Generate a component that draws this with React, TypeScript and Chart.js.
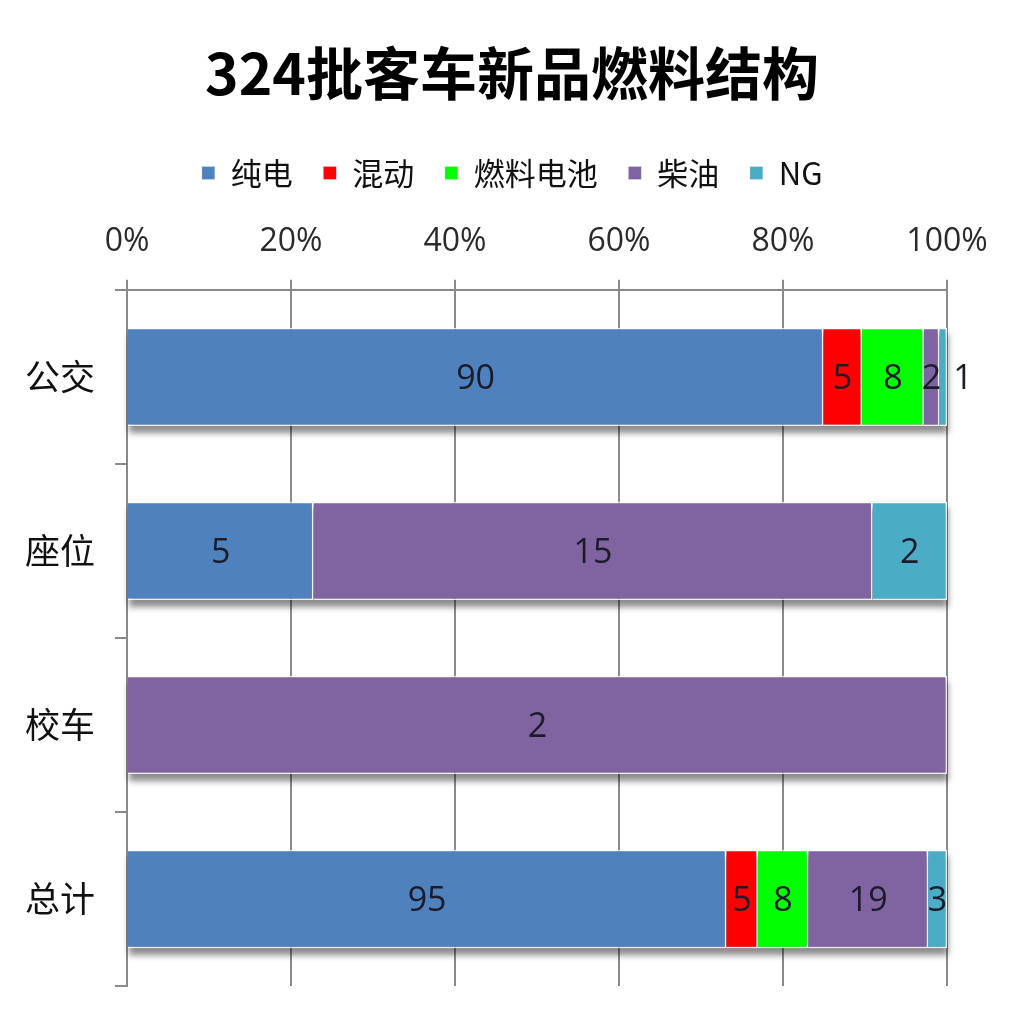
import { useEffect, useRef } from 'react';
import { Chart, registerables } from 'chart.js';

Chart.register(...registerables);

// categories (y axis) and raw counts per fuel type
const categories = ['公交', '座位', '校车', '总计'];
const seriesNames = ['纯电', '混动', '燃料电池', '柴油', 'NG'];
const chunDian = [90, 5, 0, 95];
const hunDong = [5, 0, 0, 5];
const ranLiao = [8, 0, 0, 8];
const chaiYou = [2, 15, 2, 19];
const ngValues = [1, 2, 0, 3];
const seriesColors = ['#4F81BD', '#FF0000', '#00FF00', '#8064A2', '#4BACC6'];

const FONT = '"Open Sans", "Noto Sans CJK SC", sans-serif';
const CJK_FONT = '"Noto Sans CJK SC", "Open Sans", sans-serif';

const rawSeries = [chunDian, hunDong, ranLiao, chaiYou, ngValues];
const totals = categories.map((_, i) => rawSeries.reduce((s, arr) => s + arr[i], 0));

// soft drop shadow under each stacked bar, like the Excel style
const shadowPlugin = {
  id: 'barShadow',
  beforeDatasetsDraw(chart: Chart) {
    const ctx = chart.ctx;
    ctx.save();
    ctx.filter = 'blur(3px)';
    ctx.fillStyle = 'rgba(0,0,0,0.45)';
    categories.forEach((_, i) => {
      let left = Infinity;
      let right = -Infinity;
      let top = 0;
      let bottom = 0;
      chart.data.datasets.forEach((_ds, d) => {
        const el: any = chart.getDatasetMeta(d).data[i];
        if (!rawSeries[d][i]) return;
        left = Math.min(left, el.base, el.x);
        right = Math.max(right, el.base, el.x);
        top = el.y - el.height / 2;
        bottom = el.y + el.height / 2;
      });
      if (right > left) ctx.fillRect(left + 1, top + 6, right - left, bottom - top + 1);
    });
    ctx.restore();
  },
};

// raw values written in the middle of each segment
const labelPlugin = {
  id: 'segmentLabels',
  afterDatasetsDraw(chart: Chart) {
    const ctx = chart.ctx;
    ctx.save();
    ctx.font = `34px ${FONT}`;
    ctx.fillStyle = '#1b1b2a';
    ctx.textAlign = 'center';
    ctx.textBaseline = 'middle';
    categories.forEach((_, i) => {
      let prevRight = -Infinity;
      chart.data.datasets.forEach((_ds, d) => {
        const raw = rawSeries[d][i];
        if (!raw) return;
        const el: any = chart.getDatasetMeta(d).data[i];
        const text = String(raw);
        const w = ctx.measureText(text).width;
        let cx = (el.x + el.base) / 2;
        if (cx - w / 2 < prevRight + 4) cx = prevRight + 12 + w / 2;
        ctx.fillText(text, cx, el.y + 2);
        prevRight = cx + w / 2;
      });
    });
    ctx.restore();
  },
};

export default function App() {
  const canvasRef = useRef<HTMLCanvasElement>(null);

  useEffect(() => {
    if (!canvasRef.current) return;
    const gridColor = '#8a8a8a';

    const chart = new Chart(canvasRef.current, {
      type: 'bar',
      data: {
        labels: categories,
        datasets: seriesNames.map((name, d) => ({
          label: name,
          data: rawSeries[d].map((v, i) => (v / totals[i]) * 100),
          backgroundColor: seriesColors[d],
          borderColor: 'rgba(255,255,255,0.85)',
          borderWidth: 1.5,
          categoryPercentage: 1,
          barPercentage: 0.565,
        })),
      },
      plugins: [shadowPlugin, labelPlugin],
      options: {
        indexAxis: 'y',
        animation: false,
        responsive: true,
        maintainAspectRatio: false,
        layout: { padding: { left: 0, right: 0, top: 0, bottom: 36 } },
        plugins: {
          title: {
            display: true,
            text: '324批客车新品燃料结构',
            color: '#000',
            font: { family: CJK_FONT, size: 57, weight: 'bold' },
            padding: { top: 39, bottom: 20 },
          },
          legend: {
            position: 'top',
            labels: {
              color: '#111',
              font: { family: CJK_FONT, size: 31 },
              boxWidth: 14,
              boxHeight: 14,
              padding: 30,
            },
          },
          tooltip: { enabled: false },
        },
        scales: {
          x: {
            position: 'top',
            stacked: true,
            min: 0,
            max: 100,
            afterFit: (scale) => {
              scale.height += 5;
            },
            ticks: {
              stepSize: 20,
              color: '#2a2a2a',
              font: { family: FONT, size: 32 },
              padding: 19,
              callback: (v) => `${v}%`,
            },
            grid: { color: gridColor, lineWidth: 2, tickLength: 10 },
            border: { display: true, color: gridColor, width: 2 },
          },
          y: {
            stacked: true,
            afterFit: (scale: any) => {
              scale.width = 127;
              scale.paddingTop = 0;
              scale.paddingBottom = 0;
            },
            ticks: {
              color: '#111',
              font: { family: CJK_FONT, size: 35 },
              padding: 20,
            },
            grid: {
              offset: true,
              drawOnChartArea: false,
              color: gridColor,
              lineWidth: 2,
              tickLength: 12,
            },
            border: { display: true, color: gridColor, width: 2 },
          },
          // empty right-hand gutter so the title and legend stay centred on the page
          gutter: {
            type: 'linear',
            position: 'right',
            display: true,
            afterFit: (scale: any) => {
              scale.width = 77;
              scale.paddingTop = 0;
              scale.paddingBottom = 0;
            },
            ticks: { display: false },
            grid: { display: false },
            border: { display: false },
          },
        },
      },
    });

    return () => {
      chart.destroy();
    };
  }, []);

  return (
    <div style={{ position: 'absolute', left: 0, top: 0, width: 1024, height: 1022, background: '#fff' }}>
      <canvas ref={canvasRef} />
    </div>
  );
}
